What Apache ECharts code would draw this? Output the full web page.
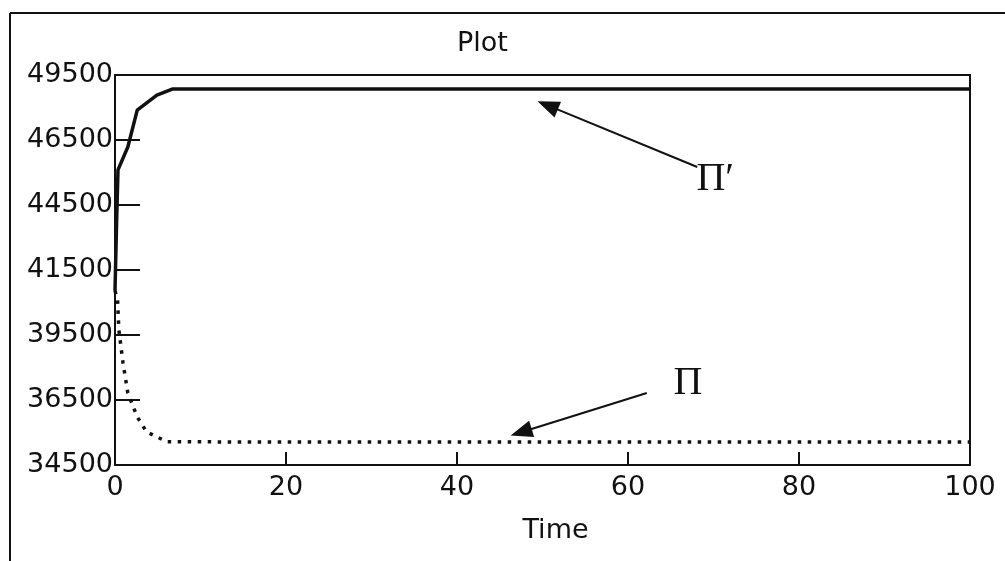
<!DOCTYPE html>
<html>
<head>
<meta charset="utf-8">
<script src="https://cdn.jsdelivr.net/npm/echarts@6/dist/echarts.min.js"></script>
<style>html,body{margin:0;padding:0;background:#fff;}#c{width:1005px;height:561px;}</style>
</head>
<body>
<div id="c"></div>
<script>
// ---- data ----
const timeUpper = [0, 0.2, 0.35, 1.5, 2.6, 4.9, 6.7, 100];
const valueUpper = [41200, 44000, 45850, 46730, 48150, 48730, 48960, 48960];   // Π′
const timeLower = [0, 0.3, 0.45, 0.94, 1.5, 2.6, 3.7, 6.1, 100];
const valueLower = [41200, 40850, 39700, 38420, 37270, 36350, 35770, 35390, 35380]; // Π
const yTickLabels = ['34500', '36500', '39500', '41500', '44500', '46500', '49500'];
const xTicks = [0, 20, 40, 60, 80, 100];
// annotation arrows: [tail, head] in data units
const arrowUpper = [[68.1, 45960], [50.6, 48330]];
const arrowLower = [[62.2, 37270], [47.5, 35760]];
const labelUpperPos = [70.2, 45500];
const labelLowerPos = [67.0, 37650];

const yMin = 34500, yMax = 49500, yStep = 2500;
const pairs = (xs, ys) => xs.map((x, i) => [x, ys[i]]);
const txt = '#111';
const font = 'DejaVu Sans';

const chart = echarts.init(document.getElementById('c'), null, {renderer: 'canvas'});
chart.setOption({
  animation: false,
  backgroundColor: '#fff',
  title: {
    text: 'Plot', left: 452, top: 25,
    textStyle: {fontFamily: font, fontSize: 27, fontWeight: 'normal', color: txt}
  },
  grid: {left: 115, right: 35, top: 75, bottom: 96, show: true, borderColor: '#111', borderWidth: 2, containLabel: false},
  xAxis: {
    type: 'value', min: 0, max: 100, interval: 20,
    name: 'Time', nameLocation: 'middle', nameGap: 52,
    nameTextStyle: {fontFamily: font, fontSize: 27, color: txt, padding: [0, 0, 0, 26]},
    axisLine: {show: true, lineStyle: {color: '#111', width: 2}},
    axisTick: {show: true, inside: true, length: 13, lineStyle: {color: '#111', width: 2}},
    axisLabel: {fontFamily: font, fontSize: 27, color: txt, margin: 9,
      formatter: v => xTicks.includes(v) ? String(v) : ''},
    splitLine: {show: false}
  },
  yAxis: {
    type: 'value', min: yMin, max: yMax, interval: yStep,
    axisLine: {show: true, lineStyle: {color: '#111', width: 2}},
    axisTick: {show: true, inside: true, length: 25, lineStyle: {color: '#111', width: 2}},
    axisLabel: {fontFamily: font, fontSize: 27, color: txt, margin: 2,
      formatter: v => yTickLabels[Math.round((v - yMin) / yStep)] || ''},
    splitLine: {show: false}
  },
  graphic: [
    {type: 'line', shape: {x1: 10, y1: 13, x2: 1005, y2: 13}, style: {stroke: '#111', lineWidth: 2}},
    {type: 'line', shape: {x1: 10, y1: 13, x2: 10, y2: 561}, style: {stroke: '#111', lineWidth: 2}}
  ],
  series: [
    {
      name: 'Π′', type: 'line', showSymbol: false, symbol: 'none',
      data: pairs(timeUpper, valueUpper),
      lineStyle: {color: '#111', width: 3.5},
      markLine: {
        silent: true, symbol: ['none', 'triangle'], symbolSize: [17, 22],
        lineStyle: {color: '#111', width: 2, type: 'solid'}, label: {show: false},
        data: [[{coord: arrowUpper[0]}, {coord: arrowUpper[1]}]]
      },
      markPoint: {
        symbol: 'circle', symbolSize: 0,
        label: {show: true, formatter: 'Π′', fontFamily: 'Liberation Serif', fontSize: 40, color: txt},
        data: [{coord: labelUpperPos}]
      }
    },
    {
      name: 'Π', type: 'line', showSymbol: false, symbol: 'none',
      data: pairs(timeLower, valueLower),
      lineStyle: {color: '#111', width: 3.5, type: [3.5, 6.5]},
      markLine: {
        silent: true, symbol: ['none', 'triangle'], symbolSize: [17, 22],
        lineStyle: {color: '#111', width: 2, type: 'solid'}, label: {show: false},
        data: [[{coord: arrowLower[0]}, {coord: arrowLower[1]}]]
      },
      markPoint: {
        symbol: 'circle', symbolSize: 0,
        label: {show: true, formatter: 'Π', fontFamily: 'Liberation Serif', fontSize: 40, color: txt},
        data: [{coord: labelLowerPos}]
      }
    }
  ]
});
</script>
</body>
</html>
